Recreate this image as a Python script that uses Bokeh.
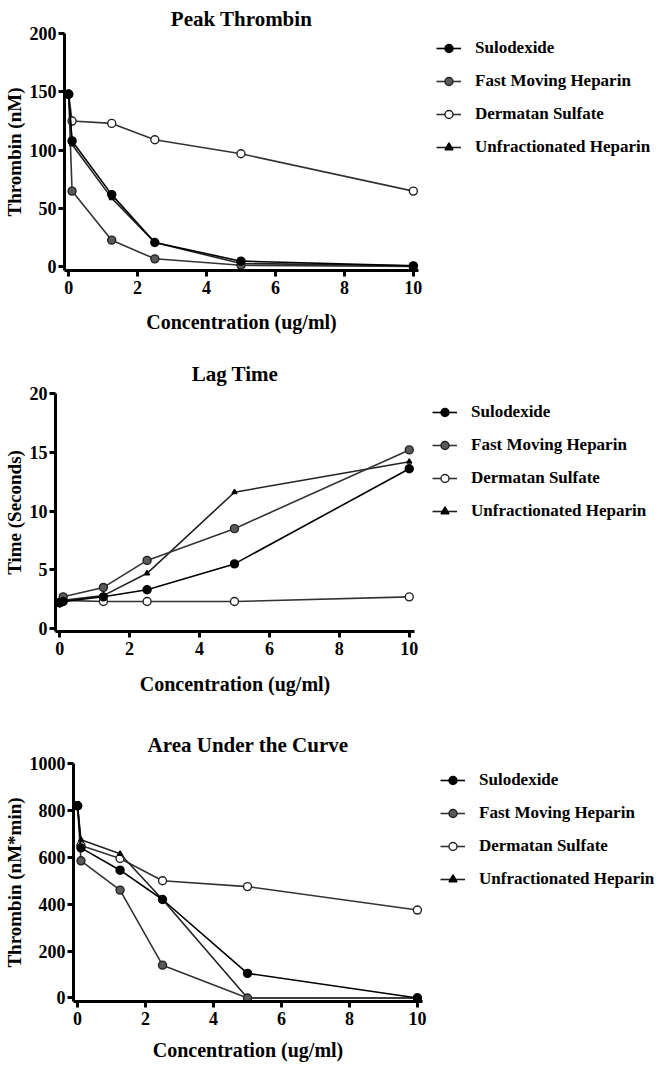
from bokeh.plotting import figure
from bokeh.models import Range1d, FixedTicker, Legend, LegendItem
from bokeh.embed import file_html
from bokeh.resources import INLINE

# ---------------- data ----------------
conc = [0, 0.1, 1.25, 2.5, 5, 10]
series_names = ["Sulodexide", "Fast Moving Heparin", "Dermatan Sulfate", "Unfractionated Heparin"]

peak_sulodexide = [148, 108, 62, 21, 5, 1]
peak_fast_heparin = [148, 65, 23, 7, 1.5, 0.5]
peak_dermatan = [148, 125, 123, 109, 97, 65]
peak_unfrac_heparin = [148, 105, 59, 21, 3, 1]

lag_sulodexide = [2.2, 2.3, 2.7, 3.3, 5.5, 13.6]
lag_fast_heparin = [2.2, 2.7, 3.5, 5.8, 8.5, 15.2]
lag_dermatan = [2.2, 2.4, 2.3, 2.3, 2.3, 2.7]
lag_unfrac_heparin = [2.2, 2.4, 2.8, 4.7, 11.6, 14.2]

auc_sulodexide = [820, 640, 545, 420, 105, 0]
auc_fast_heparin = [820, 585, 460, 140, 0, 0]
auc_dermatan = [820, 650, 595, 500, 475, 375]
auc_unfrac_heparin = [820, 675, 615, 420, 0, 0]

x_ticks = [0, 2, 4, 6, 8, 10]
peak_ticks = [0, 50, 100, 150, 200]
lag_ticks = [0, 5, 10, 15, 20]
auc_ticks = [0, 200, 400, 600, 800, 1000]

FONT = "Liberation Serif"

# style per series (same order as series_names)
styles = [
    dict(marker="circle", size=8, fill_color="black", line_color="black", lc="black"),
    dict(marker="circle", size=8, fill_color="#5a5a5a", line_color="#222222", lc="#333333"),
    dict(marker="circle", size=8, fill_color="white", line_color="#222222", lc="#333333"),
    dict(marker="triangle", size=5, fill_color="black", line_color="black", lc="#222222"),
]


def make_panel(title, ylabel, yticks, ypad, values, frame_w, frame_h,
               b_left, b_top, b_bottom, title_standoff, xlab_standoff, legend_top):
    ymax = yticks[-1]
    p = figure(output_backend="svg", toolbar_location=None,
               frame_width=frame_w, frame_height=frame_h,
               x_range=Range1d(-0.12, 10.15), y_range=Range1d(-ypad, ymax),
               min_border_left=b_left, min_border_top=b_top,
               min_border_bottom=b_bottom, min_border_right=234)
    p.title.text = title
    p.title.align = "center"
    p.title.text_font = FONT
    p.title.text_font_style = "bold"
    p.title.text_font_size = "21px"
    p.title.text_color = "black"
    p.title.standoff = title_standoff
    p.outline_line_color = None
    p.xgrid.visible = False
    p.ygrid.visible = False
    p.background_fill_color = "white"
    p.border_fill_color = "white"

    for ax in (p.xaxis[0], p.yaxis[0]):
        ax.axis_line_width = 3
        ax.axis_line_color = "black"
        ax.major_tick_line_width = 3
        ax.major_tick_line_color = "black"
        ax.major_tick_in = 0
        ax.major_tick_out = 6
        ax.minor_tick_line_color = None
        ax.major_label_text_font = FONT
        ax.major_label_text_font_style = "bold"
        ax.major_label_text_font_size = "18px"
        ax.major_label_text_color = "black"
        ax.axis_label_text_font = FONT
        ax.axis_label_text_font_style = "bold"
        ax.axis_label_text_color = "black"

    p.xaxis[0].axis_label_text_font_size = "20px"
    p.yaxis[0].axis_label_text_font_size = "19px"
    p.xaxis[0].ticker = FixedTicker(ticks=x_ticks)
    p.yaxis[0].ticker = FixedTicker(ticks=yticks)
    p.xaxis[0].axis_label = "Concentration (ug/ml)"
    p.yaxis[0].axis_label = ylabel
    p.xaxis[0].major_label_standoff = 4
    p.yaxis[0].major_label_standoff = 2
    p.xaxis[0].axis_label_standoff = xlab_standoff
    p.yaxis[0].axis_label_standoff = 2

    renderers = {}
    # draw so that Sulodexide ends up on top
    for idx in [2, 3, 1, 0]:
        st = styles[idx]
        ln = p.line(conc, values[idx], line_color=st["lc"], line_width=1.6)
        sc = p.scatter(conc, values[idx], marker=st["marker"], size=st["size"],
                       fill_color=st["fill_color"], line_color=st["line_color"],
                       line_width=1.4)
        renderers[idx] = [ln, sc]

    items = [LegendItem(label=series_names[i], renderers=renderers[i]) for i in range(4)]
    leg_h = 4 * 20 + 3 * 13
    legend = Legend(items=items, location=(18, frame_h - legend_top - leg_h))
    legend.border_line_color = None
    legend.background_fill_alpha = 0
    legend.label_text_font = FONT
    legend.label_text_font_style = "bold"
    legend.label_text_font_size = "17px"
    legend.label_text_color = "black"
    legend.glyph_width = 25
    legend.glyph_height = 20
    legend.label_height = 20
    legend.spacing = 13
    legend.padding = 0
    legend.margin = 0
    legend.label_standoff = 14
    p.add_layout(legend, "right")
    return p


p1 = make_panel("Peak Thrombin", "Thrombin (nM)", peak_ticks, 3,
                [peak_sulodexide, peak_fast_heparin, peak_dermatan, peak_unfrac_heparin],
                354, 237, 58, 33, 70, 6, 14, 5)
p2 = make_panel("Lag Time", "Time (Seconds)", lag_ticks, 0.25,
                [lag_sulodexide, lag_fast_heparin, lag_dermatan, lag_unfrac_heparin],
                359, 238, 50, 53, 91, 15, 15, 9)
p3 = make_panel("Area Under the Curve", "Thrombin (nM*min)", auc_ticks, 15,
                [auc_sulodexide, auc_fast_heparin, auc_dermatan, auc_unfrac_heparin],
                349, 238, 67, 41, 61, 14, 11, 7)

open("out.html", "w").write(file_html([p1, p2, p3], INLINE))
